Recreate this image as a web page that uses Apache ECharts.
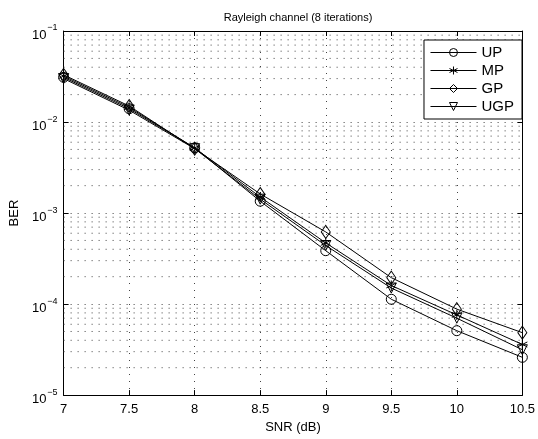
<!DOCTYPE html>
<html>
<head>
<meta charset="utf-8">
<script src="https://cdn.jsdelivr.net/npm/echarts@6/dist/echarts.min.js"></script>
<style>
  html, body { margin: 0; padding: 0; background: #fff; }
  #chart { width: 538px; height: 439px; }
</style>
</head>
<body>
<div id="chart"></div>
<script>
// SNR (dB)
var snr = [7, 7.5, 8, 8.5, 9, 9.5, 10, 10.5];
// BER per scheme
var berUP  = [0.031, 0.0140, 0.0052, 1.35e-3, 3.86e-4, 1.13e-4, 5.1e-5, 2.6e-5];
var berMP  = [0.032, 0.0145, 0.0052, 1.50e-3, 4.70e-4, 1.60e-4, 7.6e-5, 3.6e-5];
var berGP  = [0.033, 0.0150, 0.0051, 1.62e-3, 6.20e-4, 1.95e-4, 8.8e-5, 4.85e-5];
var berUGP = [0.030, 0.0135, 0.0051, 1.42e-3, 4.40e-4, 1.50e-4, 7.0e-5, 3.15e-5];

var xTicks = [7, 7.5, 8, 8.5, 9, 9.5, 10, 10.5];
var yDecades = [1e-5, 1e-4, 1e-3, 1e-2, 1e-1];
// minor log grid lines (2..9 in each decade)
var yMinor = [];
for (var d = 0; d < yDecades.length - 1; d++) {
    for (var m = 2; m <= 9; m++) {
        yMinor.push(m * yDecades[d]);
    }
}

var font = 'Liberation Sans, Arial, sans-serif';
var dotted = { color: '#444', width: 1, type: [1, 6] };

function pairs(ys) {
    return snr.map(function (x, i) { return [x, ys[i]]; });
}

var asterisk = 'path://M0,-5L0,5M-4.3,-2.5L4.3,2.5M-4.3,2.5L4.3,-2.5';

function makeSeries(name, ys, symbol, size, rotate) {
    return {
        name: name,
        type: 'line',
        data: pairs(ys),
        symbol: symbol,
        symbolSize: size,
        symbolRotate: rotate || 0,
        showSymbol: true,
        lineStyle: { color: '#000', width: 1 },
        itemStyle: { color: 'rgba(0,0,0,0)', borderColor: '#000', borderWidth: 1 },
        animation: false,
        z: 5
    };
}

var series = [
    makeSeries('UP', berUP, 'circle', 10),
    makeSeries('MP', berMP, asterisk, 10),
    makeSeries('GP', berGP, 'diamond', [9, 13]),
    makeSeries('UGP', berUGP, 'triangle', 10, 180)
];

// minor horizontal grid lines, one flat line per value, through the axis scales
yMinor.forEach(function (v) {
    series.push({
        name: 'minor',
        type: 'line',
        data: [[xTicks[0], v], [xTicks[xTicks.length - 1], v]],
        symbol: 'none',
        silent: true,
        lineStyle: dotted,
        animation: false,
        z: 1
    });
});

var option = {
    backgroundColor: '#fff',
    animation: false,
    title: {
        text: 'Rayleigh channel (8 iterations)',
        left: 293,
        textAlign: 'center',
        top: 7,
        textStyle: { fontFamily: font, fontSize: 11, fontWeight: 'normal', color: '#000' }
    },
    legend: {
        data: ['UP', 'MP', 'GP', 'UGP'],
        orient: 'vertical',
        right: 16,
        top: 40,
        padding: [5, 8, 5, 6],
        itemGap: 3,
        itemWidth: 46,
        itemHeight: 10,
        borderColor: '#000',
        borderWidth: 1,
        backgroundColor: '#fff',
        itemStyle: { color: 'rgba(0,0,0,0)', borderColor: '#000', borderWidth: 1 },
        lineStyle: { color: '#000', width: 1 },
        textStyle: { fontFamily: font, fontSize: 15, color: '#000' }
    },
    grid: { left: 60, right: 11, top: 31, bottom: 39, containLabel: false },
    xAxis: [{
        type: 'value',
        min: 7, max: 10.5, interval: 0.5,
        name: 'SNR (dB)',
        nameLocation: 'middle',
        nameGap: 25,
        nameTextStyle: { fontFamily: font, fontSize: 13, color: '#000' },
        axisLine: { lineStyle: { color: '#000', width: 1 } },
        axisTick: { inside: true, length: 5, lineStyle: { color: '#000' } },
        axisLabel: {
            fontFamily: font, fontSize: 13, color: '#000', margin: 8,
            formatter: function (v) { return xTicks.indexOf(v) >= 0 ? String(v) : ''; }
        },
        splitLine: { show: true, lineStyle: dotted }
    }, {
        type: 'value',
        position: 'top',
        min: 7, max: 10.5, interval: 0.5,
        axisLine: { show: true, onZero: false, lineStyle: { color: '#000', width: 1 } },
        axisTick: { inside: true, length: 5, lineStyle: { color: '#000' } },
        axisLabel: { show: false },
        splitLine: { show: false }
    }],
    yAxis: [{
        type: 'log',
        logBase: 10,
        min: 1e-5, max: 1e-1,
        name: 'BER',
        nameLocation: 'middle',
        nameGap: 37,
        nameTextStyle: { fontFamily: font, fontSize: 13, color: '#000' },
        axisLine: { lineStyle: { color: '#000', width: 1 } },
        axisTick: { inside: true, length: 5, lineStyle: { color: '#000' } },
        axisLabel: {
            fontFamily: font, color: '#000', margin: 6,
            formatter: function (v) {
                var e = Math.round(Math.log(v) / Math.LN10);
                return '{b|10}{s|\u2212' + Math.abs(e) + '}';
            },
            rich: {
                b: { fontFamily: font, fontSize: 13, color: '#000', padding: [8, 0, 0, 0] },
                s: { fontFamily: font, fontSize: 9, color: '#000', padding: [0, 0, 6, 1] }
            }
        },
        splitLine: { show: true, lineStyle: dotted }
    }, {
        type: 'log',
        logBase: 10,
        min: 1e-5, max: 1e-1,
        position: 'right',
        axisLine: { show: true, lineStyle: { color: '#000', width: 1 } },
        axisTick: { inside: true, length: 5, lineStyle: { color: '#000' } },
        axisLabel: { show: false },
        splitLine: { show: false }
    }],
    series: series
};

var chart = echarts.init(document.getElementById('chart'), null, { renderer: 'canvas' });
chart.setOption(option);
</script>
</body>
</html>
